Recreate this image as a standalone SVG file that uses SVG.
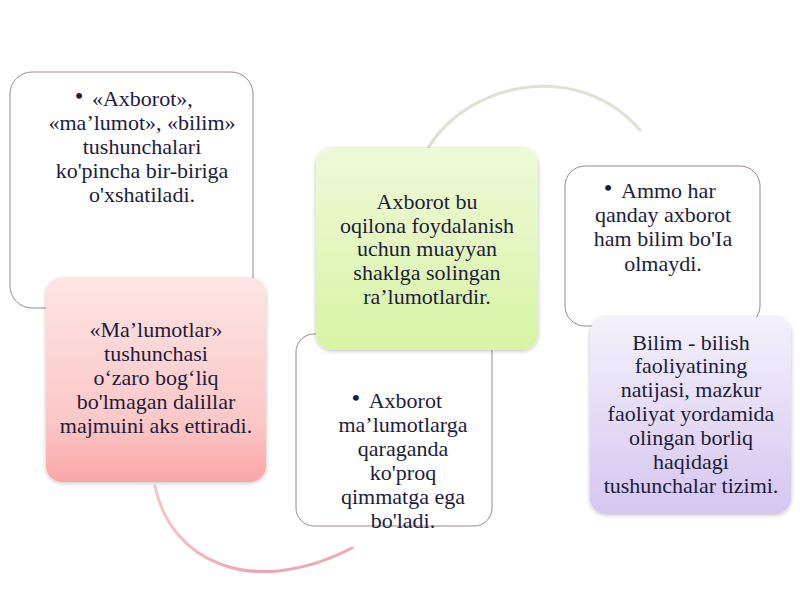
<svg xmlns="http://www.w3.org/2000/svg" width="800" height="600" viewBox="0 0 800 600">
<defs>
<linearGradient id="gPink" x1="0" y1="0" x2="0" y2="1">
<stop offset="0" stop-color="#fde4e4"/>
<stop offset="0.7" stop-color="#fcc8c8"/>
<stop offset="1" stop-color="#fba6a6"/>
</linearGradient>
<linearGradient id="gGreen" x1="0" y1="0" x2="0" y2="1">
<stop offset="0" stop-color="#eef9d8"/>
<stop offset="1" stop-color="#d8f4a4"/>
</linearGradient>
<linearGradient id="gPurple" x1="0" y1="0" x2="0" y2="1">
<stop offset="0" stop-color="#f3f1fb"/>
<stop offset="1" stop-color="#d6c6f0"/>
</linearGradient>
<linearGradient id="gArc" x1="0" y1="0" x2="1" y2="0">
<stop offset="0" stop-color="#f6c4c8"/>
<stop offset="0.5" stop-color="#f0a4b2"/>
<stop offset="1" stop-color="#f0a8b4"/>
</linearGradient>
<filter id="sh" x="-10%" y="-10%" width="120%" height="120%">
<feGaussianBlur in="SourceAlpha" stdDeviation="2"/>
<feOffset dx="0" dy="1"/>
<feComponentTransfer><feFuncA type="linear" slope="0.25"/></feComponentTransfer>
<feMerge><feMergeNode/><feMergeNode in="SourceGraphic"/></feMerge>
</filter>
</defs>
<style>
.t{font-family:"Liberation Serif","Times New Roman",serif;font-size:22px;fill:#1c1c3c;text-anchor:middle}
.b{font-size:22px;font-weight:bold}
.wb{fill:#ffffff;stroke:#9a8a8a;stroke-width:1}
.conn{fill:none;stroke-width:3;stroke-linecap:round}
</style>
<rect width="800" height="600" fill="#ffffff"/>
<g id="connectors">
<path class="conn" d="M155,486 C170,560 250,600 352,548" stroke="url(#gArc)"/>
<path class="conn" d="M428,148 C470,80 580,60 640,130" stroke="#dfe2d2" stroke-width="2.5"/>
</g>
<g id="node1">
<rect class="wb" x="10" y="72" width="243" height="236" rx="22"/>
<text class="t" x="134" y="106"><tspan class="b" dy="-3">•</tspan><tspan dx="9" dy="3">«Axborot»,</tspan></text>
<text class="t" x="142" y="130">«ma’lumot», «bilim»</text>
<text class="t" x="142" y="154">tushunchalari</text>
<text class="t" x="142" y="178">ko'pincha bir-biriga</text>
<text class="t" x="142" y="202">o'xshatiladi.</text>
</g>
<g id="node2">
<rect x="46" y="278" width="220" height="204" rx="16" fill="url(#gPink)" filter="url(#sh)"/>
<text class="t" x="156" y="337">«Ma’lumotlar»</text>
<text class="t" x="156" y="361">tushunchasi</text>
<text class="t" x="156" y="385">o‘zaro bog‘liq</text>
<text class="t" x="156" y="409">bo'lmagan dalillar</text>
<text class="t" x="156" y="433">majmuini aks ettiradi.</text>
</g>
<g id="node4">
<rect class="wb" x="296" y="334" width="196" height="192" rx="18"/>
<text class="t" x="397" y="408"><tspan class="b" dy="-3">•</tspan><tspan dx="9" dy="3">Axborot</tspan></text>
<text class="t" x="403" y="432">ma’lumotlarga</text>
<text class="t" x="403" y="456">qaraganda</text>
<text class="t" x="403" y="480">ko'proq</text>
<text class="t" x="403" y="504">qimmatga ega</text>
<text class="t" x="403" y="528">bo'ladi.</text>
</g>
<g id="node3">
<rect x="316" y="148" width="222" height="202" rx="16" fill="url(#gGreen)" filter="url(#sh)"/>
<text class="t" x="427" y="209">Axborot bu</text>
<text class="t" x="427" y="233">oqilona foydalanish</text>
<text class="t" x="427" y="256">uchun muayyan</text>
<text class="t" x="427" y="280">shaklga solingan</text>
<text class="t" x="427" y="304">ra’lumotlardir.</text>
</g>
<g id="node5">
<rect class="wb" x="565" y="166" width="195" height="160" rx="20"/>
<text class="t" x="660" y="198"><tspan class="b" dy="-3">•</tspan><tspan dx="9" dy="3">Ammo har</tspan></text>
<text class="t" x="663" y="222">qanday axborot</text>
<text class="t" x="663" y="246">ham bilim bo'Ia</text>
<text class="t" x="663" y="271">olmaydi.</text>
</g>
<g id="node6">
<rect x="590" y="317" width="201" height="197" rx="16" fill="url(#gPurple)" filter="url(#sh)"/>
<text class="t" x="691" y="350">Bilim - bilish</text>
<text class="t" x="691" y="373">faoliyatining</text>
<text class="t" x="691" y="397">natijasi, mazkur</text>
<text class="t" x="691" y="421">faoliyat yordamida</text>
<text class="t" x="691" y="445">olingan borliq</text>
<text class="t" x="691" y="469">haqidagi</text>
<text class="t" x="691" y="493">tushunchalar tizimi.</text>
</g>
</svg>
